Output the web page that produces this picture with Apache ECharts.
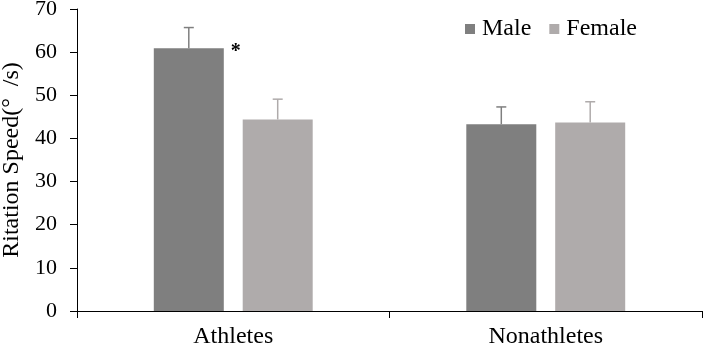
<!DOCTYPE html>
<html>
<head>
<meta charset="utf-8">
<script src="https://cdn.jsdelivr.net/npm/echarts@6/dist/echarts.min.js"></script>
<style>
  html, body { margin: 0; padding: 0; background: #fff; }
  #main { width: 707px; height: 348px; }
</style>
</head>
<body>
<div id="main"></div>
<script>
  var categories = ['Athletes', 'Nonathletes'];
  var maleValues = [60.9, 43.3];
  var maleErrors = [4.8, 4.0];
  var femaleValues = [44.4, 43.7];
  var femaleErrors = [4.7, 4.8];
  var yTicks = { min: 0, max: 70, interval: 10 };

  var MALE = '#7f7f7f';
  var FEMALE = '#afabab';
  var BAR_W = 0.224;
  var BAR_GAP = 0.27;
  var FONT = '"Liberation Serif", "Times New Roman", serif';

  function errorSeries(name, values, errors, side, color) {
    return {
      name: name,
      type: 'custom',
      z: 5,
      silent: true,
      data: values.map(function (v, i) { return [i, v, v + errors[i]]; }),
      renderItem: function (params, api) {
        var band = api.size([1, 0])[0];
        var off = side * band * BAR_W * (1 + BAR_GAP) / 2;
        var lo = api.coord([api.value(0), api.value(1)]);
        var hi = api.coord([api.value(0), api.value(2)]);
        var x = lo[0] + off;
        var style = { stroke: color, lineWidth: 1.5 };
        return {
          type: 'group',
          children: [
            { type: 'line', shape: { x1: x, y1: lo[1], x2: x, y2: hi[1] }, style: style },
            { type: 'line', shape: { x1: x - 5, y1: hi[1], x2: x + 5, y2: hi[1] }, style: style }
          ]
        };
      }
    };
  }

  var chart = echarts.init(document.getElementById('main'));
  chart.setOption({
    backgroundColor: '#fff',
    animation: false,
    textStyle: { fontFamily: FONT },
    grid: { left: 77, right: 5, top: 9, bottom: 37, outerBoundsMode: 'none' },
    legend: {
      data: ['Male', 'Female'],
      left: 460,
      top: 12,
      itemWidth: 10,
      itemHeight: 10,
      itemGap: 18,
      icon: 'rect',
      textStyle: { fontFamily: FONT, fontSize: 24, color: '#000', padding: [0, 0, 0, 2] }
    },
    xAxis: {
      type: 'category',
      data: categories,
      axisLine: { lineStyle: { color: '#000', width: 1 } },
      axisTick: { show: true, length: 7, lineStyle: { color: '#000' } },
      axisLabel: { fontFamily: FONT, fontSize: 24, color: '#000', margin: 14 }
    },
    yAxis: {
      type: 'value',
      min: yTicks.min,
      max: yTicks.max,
      interval: yTicks.interval,
      name: 'Ritation Speed(°  /s)',
      nameLocation: 'middle',
      nameGap: 52,
      nameTextStyle: { fontFamily: FONT, fontSize: 24, color: '#000' },
      axisLine: { show: true, lineStyle: { color: '#000', width: 1 } },
      axisTick: { show: true, length: 7, lineStyle: { color: '#000' } },
      splitLine: { show: false },
      axisLabel: { fontFamily: FONT, fontSize: 22, color: '#000', margin: 20 }
    },
    series: [
      {
        name: 'Male',
        type: 'bar',
        barWidth: (BAR_W * 100) + '%',
        barGap: (BAR_GAP * 100) + '%',
        itemStyle: { color: MALE },
        data: maleValues.map(function (v, i) {
          return i === 0
            ? { value: v, label: { show: true, position: [77, -6], formatter: '*', fontFamily: FONT, fontSize: 20, color: '#000', fontWeight: 'bold' } }
            : v;
        })
      },
      {
        name: 'Female',
        type: 'bar',
        barWidth: (BAR_W * 100) + '%',
        itemStyle: { color: FEMALE },
        data: femaleValues
      },
      errorSeries('Male error', maleValues, maleErrors, -1, MALE),
      errorSeries('Female error', femaleValues, femaleErrors, 1, FEMALE)
    ]
  });
</script>
</body>
</html>
